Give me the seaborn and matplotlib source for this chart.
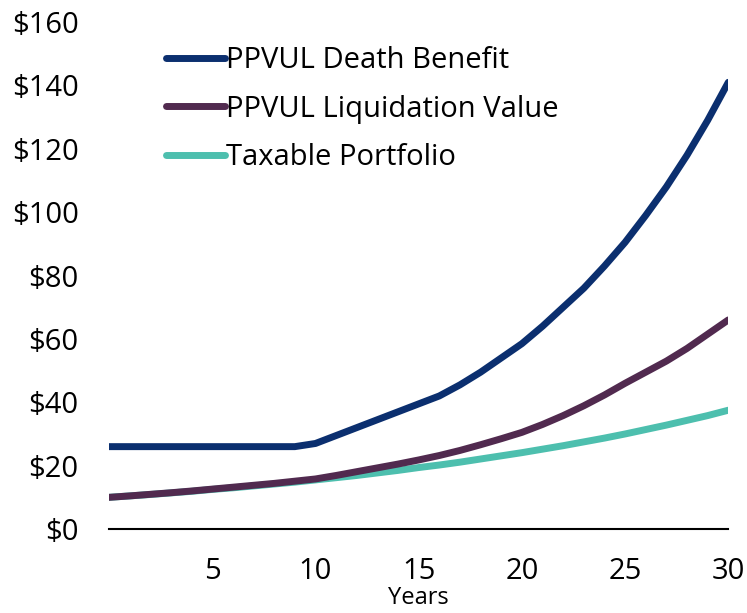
import pandas as pd
import numpy as np
import matplotlib
matplotlib.use("Agg")
import matplotlib.pyplot as plt
import seaborn as sns

# values ($, years 0..30)
years = list(range(0, 31))
death_benefit = [26, 26, 26, 26, 26, 26, 26, 26, 26, 26,
                 27, 29.5, 32, 34.5, 37, 39.5, 42, 45.5, 49.5, 54,
                 58.5, 64, 70, 76, 83, 90.5, 99, 108, 118, 129, 141]
liquidation = [10, 10.45, 10.95, 11.45, 12.0, 12.6, 13.2, 13.8, 14.4, 15.1,
               15.8, 16.9, 18.1, 19.3, 20.5, 21.8, 23.2, 24.8, 26.6, 28.5,
               30.5, 33, 35.8, 38.9, 42.3, 46, 49.5, 53, 57, 61.5, 66]
taxable = [10, 10.45, 10.9, 11.4, 11.9, 12.5, 13.0, 13.6, 14.2, 14.8,
           15.5, 16.2, 16.9, 17.7, 18.5, 19.4, 20.2, 21.1, 22.1, 23.1,
           24.1, 25.2, 26.3, 27.5, 28.7, 30.0, 31.4, 32.8, 34.3, 35.8, 37.5]

series = ["PPVUL Death Benefit", "PPVUL Liquidation Value", "Taxable Portfolio"]
colors = ["#0b2f6f", "#512a4f", "#4dbfae"]

df = pd.DataFrame({
    "Years": years * 3,
    "Value": death_benefit + liquidation + taxable,
    "Series": [series[0]] * 31 + [series[1]] * 31 + [series[2]] * 31,
})

sns.set_style("white")
plt.rcParams["font.family"] = ["Open Sans", "DejaVu Sans"]
plt.rcParams["text.color"] = "black"
plt.rcParams["xtick.color"] = "black"
plt.rcParams["ytick.color"] = "black"
plt.rcParams["axes.labelcolor"] = "black"

fig = plt.figure(figsize=(7.47, 6.13), dpi=100)
ax = fig.add_axes([0.146, 0.137, 0.829, 0.827])
# draw in reverse so death benefit sits on top
sns.lineplot(data=df, x="Years", y="Value", hue="Series", hue_order=series[::-1],
             palette=colors[::-1], linewidth=5, ax=ax, legend=False)
for ln in ax.lines:
    ln.set_solid_joinstyle("round")

ax.set_xlim(0, 30)
ax.set_ylim(0, 160)
ax.set_xticks([5, 10, 15, 20, 25, 30])
ax.set_yticks(range(0, 161, 20))
ax.set_yticklabels([f"${v}" for v in range(0, 161, 20)])
ax.tick_params(axis="both", labelsize=21, length=0)
ax.tick_params(axis="y", pad=22)
ax.tick_params(axis="x", pad=20)
ax.set_xlabel("Years", fontsize=17, labelpad=0)
ax.set_ylabel("")
for s in ["top", "right", "left"]:
    ax.spines[s].set_visible(False)
ax.spines["bottom"].set_color("black")
ax.spines["bottom"].set_linewidth(1.5)

handles = [plt.Line2D([0], [0], color=c, lw=5, solid_capstyle="round") for c in colors]
ax.legend(handles, series, loc="upper left", bbox_to_anchor=(0.05, 1.005), frameon=False,
          fontsize=21, handlelength=2.0, handletextpad=0.05, labelspacing=0.68)

fig.savefig("out.png", dpi=100)
